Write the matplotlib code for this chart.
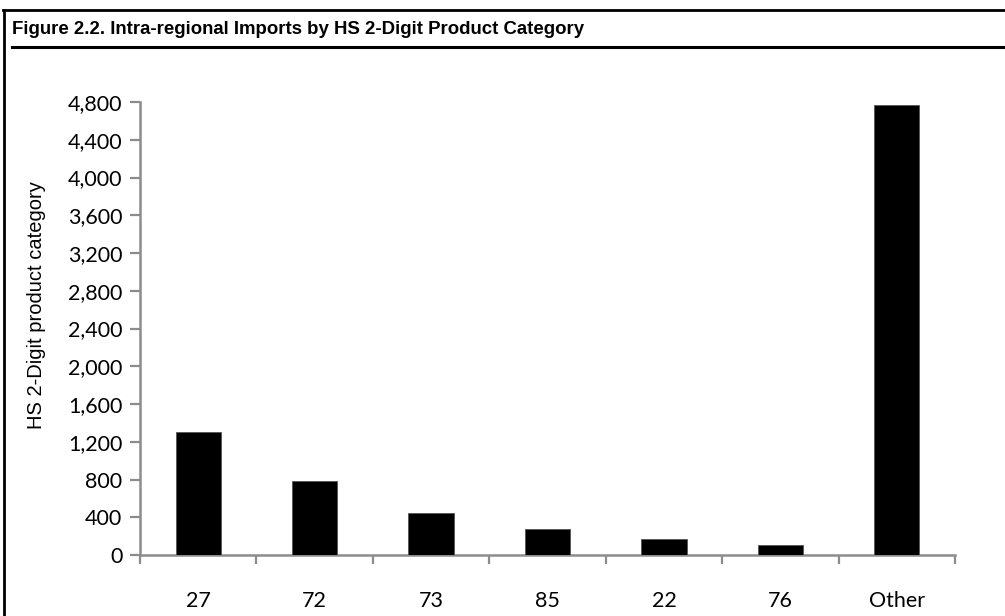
import numpy as np
import matplotlib.pyplot as plt
from matplotlib.lines import Line2D
from matplotlib.ticker import FuncFormatter, FixedLocator

# data
categories = ["27", "72", "73", "85", "22", "76", "Other"]
values = [1300, 780, 440, 275, 170, 105, 4765]
y_ticks = list(range(0, 4801, 400))

title = "Figure 2.2. Intra-regional Imports by HS 2-Digit Product Category"
y_label = "HS 2-Digit product category"

axis_grey = "#8c8c8c"

fig = plt.figure(figsize=(10.05, 6.16), dpi=100)
W, H = 1005, 616


def fx(px):
    return px / W


def fy(py):
    return 1 - py / H


# frame around the figure (box + title separator)
fig.add_artist(Line2D([fx(3), fx(1005)], [fy(10), fy(10)], color="black", lw=2.0))
fig.add_artist(Line2D([fx(4), fx(4)], [fy(10), fy(616)], color="black", lw=2.0))
fig.add_artist(Line2D([fx(12), fx(1005)], [fy(47), fy(47)], color="black", lw=2.2))
fig.text(fx(12), fy(29), title, fontsize=13.4, fontweight="bold",
         family="Liberation Sans", ha="left", va="center")

ax = fig.add_axes([fx(140), fy(555), fx(955) - fx(140), fy(102) - fy(555)])

x = np.arange(len(categories))
ax.bar(x, values, width=0.39, color="black", edgecolor="#555555", linewidth=0.6, zorder=3)

ax.set_xlim(-0.5, len(categories) - 0.5)
ax.set_ylim(0, 4800)

# ticks at category boundaries, labels at centres
ax.xaxis.set_major_locator(FixedLocator(np.arange(-0.5, len(categories), 1.0)))
ax.xaxis.set_minor_locator(FixedLocator(x))
ax.set_xticklabels([], minor=False)
ax.set_xticks(x, categories, minor=True)
ax.tick_params(axis="x", which="major", length=6.5, width=1.6, color=axis_grey, direction="out")
ax.tick_params(axis="x", which="minor", length=0, pad=26)

ax.set_yticks(y_ticks)
ax.yaxis.set_major_formatter(FuncFormatter(lambda v, p: f"{int(v):,}"))
ax.tick_params(axis="y", length=7.2, width=1.6, color=axis_grey, direction="out", pad=5.5)

for lab in ax.get_xticklabels(minor=True) + ax.get_yticklabels():
    lab.set_family(["Lato", "DejaVu Sans"])
    lab.set_fontsize(15.5)
    lab.set_color("black")

for side in ["top", "right"]:
    ax.spines[side].set_visible(False)
for side in ["left", "bottom"]:
    ax.spines[side].set_color(axis_grey)
    ax.spines[side].set_linewidth(1.8)

fig.text(fx(36), fy(305), y_label, rotation=90, fontsize=14.5,
         family="Liberation Sans", ha="center", va="center")

fig.savefig("out.png", dpi=100)
